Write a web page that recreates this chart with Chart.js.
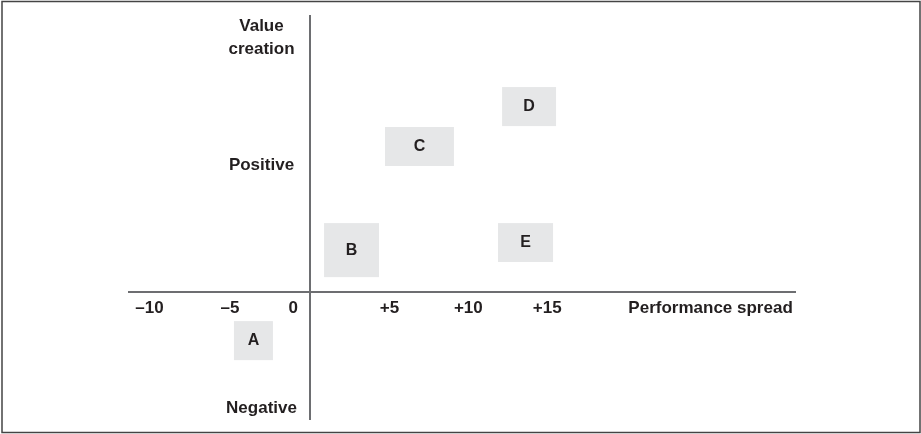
<!DOCTYPE html>
<html>
<head>
<meta charset="utf-8">
<script src="https://cdn.jsdelivr.net/npm/chart.js@4.4.1/dist/chart.umd.min.js"></script>
<style>
html, body { margin: 0; padding: 0; background: #ffffff; }
canvas { display: block; }
</style>
</head>
<body>
<canvas id="c" width="921" height="434"></canvas>
<script>
// ---- data ----
const categories = ['A', 'B', 'C', 'D', 'E'];
// extent of each box along the performance-spread axis
const xLow  = [-4.85, 0.86, 4.72, 12.14, 11.88];
const xHigh = [-2.38, 4.34, 9.09, 15.56, 15.37];
// extent of each box along the value-creation axis
const yLow  = [-5.37, 1.16,  9.90, 13.04, 2.35];
const yHigh = [-2.30, 5.41, 12.97, 16.11, 5.41];

// axis labels
const xTickValues = [-10.2, -5.1, -1.1, 5, 10, 15, 25.35];
const xTickLabels = ['–10', '–5', '0', '+5', '+10', '+15', 'Performance spread'];
const yTickValues = [20.0, 9.95, -9.15];
const yTickLabels = [['Value', 'creation'], ['Positive'], ['Negative']];

// ---- styling ----
const TEXT = '#231f20';
const AXIS = '#6d6e71';
const BOX  = '#e6e7e8';
const FONT = 'Liberation Sans, Arial, sans-serif';

const centers = categories.map((c, i) => ({
  x: (xLow[i] + xHigh[i]) / 2,
  y: (yLow[i] + yHigh[i]) / 2,
  label: c
}));

const boxPlugin = {
  id: 'boxes',
  beforeDraw(chart) {
    const ctx = chart.ctx;
    ctx.save();
    ctx.fillStyle = '#ffffff';
    ctx.fillRect(0, 0, chart.width, chart.height);
    ctx.restore();
  },
  beforeDatasetsDraw(chart) {
    const ctx = chart.ctx;
    const xs = chart.scales.x, ys = chart.scales.y;
    ctx.save();
    ctx.fillStyle = BOX;
    categories.forEach((c, i) => {
      const l = xs.getPixelForValue(xLow[i]);
      const r = xs.getPixelForValue(xHigh[i]);
      const t = ys.getPixelForValue(yHigh[i]);
      const b = ys.getPixelForValue(yLow[i]);
      ctx.fillRect(l, t, r - l, b - t);
    });
    ctx.restore();
  },
  afterDatasetsDraw(chart) {
    const ctx = chart.ctx;
    const meta = chart.getDatasetMeta(0);
    ctx.save();
    ctx.fillStyle = TEXT;
    ctx.font = 'bold 16px ' + FONT;
    ctx.textAlign = 'center';
    ctx.textBaseline = 'middle';
    meta.data.forEach((pt, i) => {
      ctx.fillText(categories[i], pt.x, pt.y);
    });
    ctx.restore();
  },
  afterDraw(chart) {
    const ctx = chart.ctx;
    const xs = chart.scales.x, ys = chart.scales.y;
    ctx.save();
    // value-creation labels, centred left of the vertical axis
    ctx.fillStyle = TEXT;
    ctx.font = 'bold 17px ' + FONT;
    ctx.textAlign = 'center';
    ctx.textBaseline = 'middle';
    const cx = xs.getPixelForValue(0) - 49;
    const lineGap = 23;
    yTickValues.forEach((v, i) => {
      const lines = yTickLabels[i];
      const py = ys.getPixelForValue(v);
      const start = py - (lines.length - 1) * lineGap / 2;
      lines.forEach((txt, j) => ctx.fillText(txt, cx, start + j * lineGap));
    });
    // frame
    ctx.strokeStyle = '#444444';
    ctx.lineWidth = 1.5;
    ctx.strokeRect(2, 1.5, chart.width - 3, chart.height - 3);
    ctx.restore();
  }
};

new Chart(document.getElementById('c'), {
  type: 'scatter',
  data: {
    datasets: [{
      label: 'Companies',
      data: centers,
      pointRadius: 0,
      pointHoverRadius: 0,
      backgroundColor: BOX,
      borderColor: BOX
    }]
  },
  options: {
    responsive: false,
    animation: false,
    devicePixelRatio: 1,
    events: [],
    layout: { padding: { left: 129, right: 126, top: 16, bottom: 15 } },
    plugins: { legend: { display: false }, tooltip: { enabled: false } },
    scales: {
      x: {
        type: 'linear',
        min: -11.5,
        max: 30.7,
        position: { y: 0 },
        grid: { display: false, drawTicks: false },
        border: { display: true, color: AXIS, width: 2 },
        afterBuildTicks: (s) => { s.ticks = xTickValues.map(v => ({ value: v })); },
        afterFit: (s) => { s.height = 0; },
        ticks: {
          autoSkip: false,
          maxRotation: 0,
          minRotation: 0,
          padding: 6,
          color: TEXT,
          font: { family: FONT, weight: 'bold', size: 17 },
          callback: (v, i) => xTickLabels[i]
        }
      },
      y: {
        type: 'linear',
        min: -10,
        max: 21.7,
        position: { x: 0 },
        grid: { display: false, drawTicks: false },
        border: { display: true, color: AXIS, width: 2 },
        afterBuildTicks: (s) => { s.ticks = yTickValues.map(v => ({ value: v })); },
        afterFit: (s) => { s.width = 0; },
        ticks: { display: false }
      }
    }
  },
  plugins: [boxPlugin]
});
</script>
</body>
</html>
